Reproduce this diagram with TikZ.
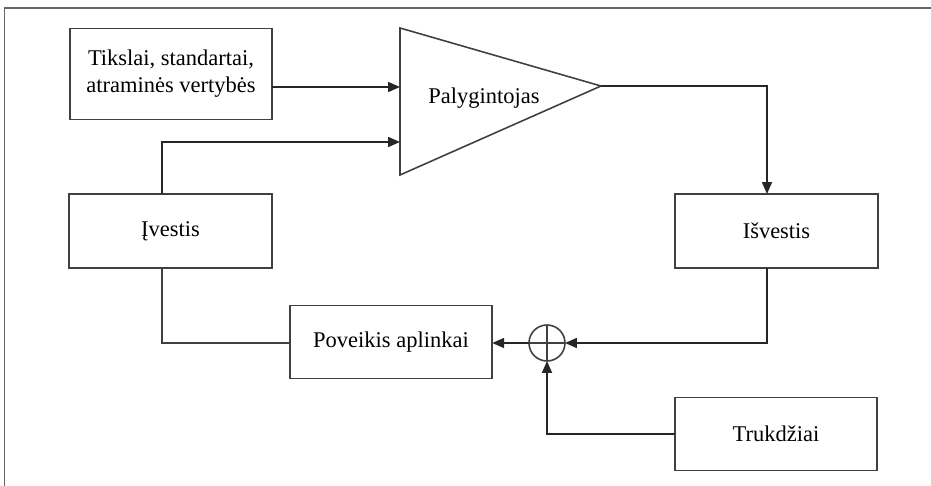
\documentclass[tikz,border=0pt]{standalone}
\usepackage{fontspec}
\setmainfont{Liberation Serif}
\usepackage{tikz}
\usetikzlibrary{arrows.meta}
\usetikzlibrary{positioning}
\tikzstyle{base}=[x=0.02cm, y=-0.02cm, inner sep=0pt, outer sep=0pt]
\tikzstyle{line}=[draw=black!75, line width=0.9pt]
\tikzstyle{arrow}=[line, draw=black!85, line width=1pt, -{Triangle[length=0.24cm, width=0.2cm]}]
\tikzstyle{block}=[line, rectangle, minimum width=4.05cm, minimum height=1.48cm, align=center, font=\fontsize{12.8}{15.5}\selectfont]
\tikzstyle{summer}=[line, circle, minimum size=0.72cm,
    path picture={\draw[line] (path picture bounding box.north) -- (path picture bounding box.south)
                              (path picture bounding box.west) -- (path picture bounding box.east);}]

\begin{document}
\begin{tikzpicture}[base]
    % frame
    \path [use as bounding box] (0,0) rectangle (931,486);
    \draw [black!60, line width=0.7pt] (931,8) -- (4.5,8) -- (4.5,486);

    % blocks
    \node [block, minimum height=1.82cm] (tikslai) at (171,74) {Tikslai, standartai,\\atraminės vertybės};
    \node [block] (ivestis) at (170.5,231) {Įvestis};
    \node [block] (isvestis) at (776.5,231) {Išvestis};
    \node [block, minimum height=1.46cm] (poveikis) at (391,342) {Poveikis aplinkai};
    \node [block, minimum height=1.46cm] (trukdziai) at (776,434) {Trukdžiai};
    \node [summer] (sum) at (547,343) {};

    % comparator
    \coordinate (cmptop) at (400,28);
    \coordinate (cmpbot) at (400,175);
    \coordinate (cmpout) at (601,86);
    \coordinate (cmpin1) at (400,87);
    \coordinate (cmpin2) at (400,142);
    \draw [line] (cmptop) -- (cmpbot) -- (cmpout) -- cycle;
    \node [font=\fontsize{12.8}{15.5}\selectfont] (palygintojas) at (484,98) {Palygintojas};

    % turning points
    \coordinate (outx) at (767,86);
    \coordinate (inx) at (162,142);

    % connectors
    \draw [arrow] (cmpin1 -| tikslai.east) -- (cmpin1);
    \draw [arrow] (ivestis.north -| inx) |- (cmpin2);
    \draw [arrow] (cmpout) -| (isvestis.north -| outx);
    \draw [arrow] (isvestis.south -| outx) |- (sum.east);
    \draw [arrow] (trukdziai.west) -| (sum.south);
    \draw [arrow] (sum.west) -- (poveikis.east |- sum.west);
    \draw [line] (poveikis.west |- sum.west) -| (ivestis.south -| inx);
\end{tikzpicture}
\end{document}
